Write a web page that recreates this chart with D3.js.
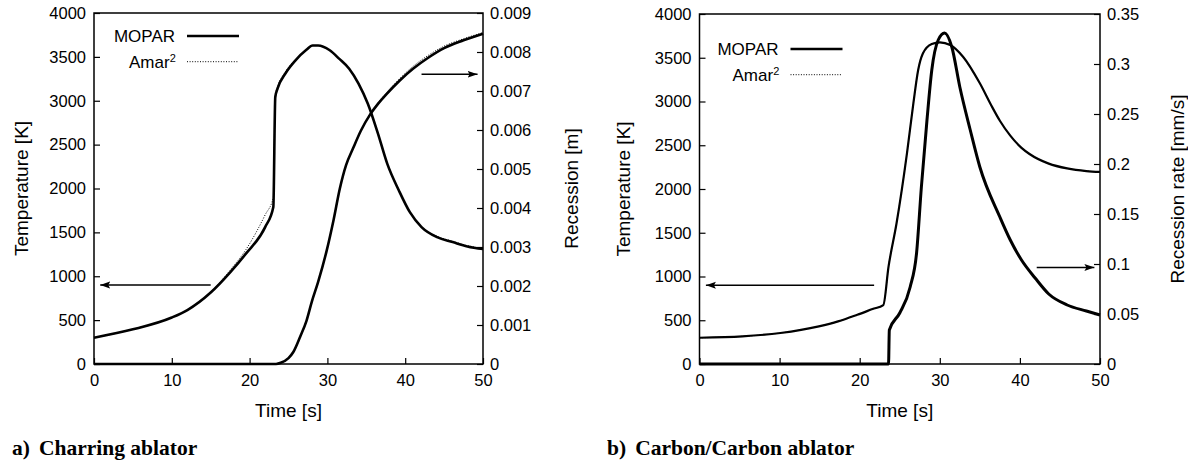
<!DOCTYPE html>
<html>
<head>
<meta charset="utf-8">
<script src="https://cdn.jsdelivr.net/npm/d3@7"></script>
<style>
  body { margin: 0; background: #fff; }
  svg text { font-family: "Liberation Sans", Arial, Helvetica, sans-serif; fill: #000; }
  .caption { font-family: "Liberation Serif", "Times New Roman", serif; font-weight: bold; }
</style>
</head>
<body>
<svg id="fig" width="1188" height="465"></svg>
<script>
// ---- a) charring ablator ----
const charTempTime  = [0, 5, 10, 12, 15, 17.5, 19.5, 22, 23.05, 23.3, 23.6, 24.6, 25.9, 27.3, 28.1, 28.8, 30.3, 31.5, 32.8, 34, 35.2, 36.5, 37.7, 39.2, 40.6, 42.1, 44.1, 46.1, 48, 50];
const charTempMopar = [300, 395, 530, 615, 815, 1045, 1255, 1560, 1790, 3040, 3140, 3310, 3460, 3580, 3630, 3630, 3575, 3480, 3365, 3195, 2965, 2625, 2280, 1975, 1730, 1560, 1445, 1390, 1340, 1310];
const charTempAmar  = [300, 395, 530, 615, 820, 1070, 1300, 1700, 1900, 3060, 3160, 3330, 3470, 3585, 3630, 3630, 3575, 3480, 3365, 3195, 2965, 2625, 2280, 1975, 1735, 1565, 1455, 1398, 1348, 1318];

const charRecTime  = [0, 23.4, 24.0, 25.0, 25.6, 26.5, 27.3, 28.0, 28.8, 29.9, 30.8, 31.6, 32.4, 33.3, 34.3, 35.5, 36.5, 37.6, 39.3, 41, 43, 45, 47.5, 50];
const charRecMopar = [0, 0, 0.00003, 0.00015, 0.0003, 0.0007, 0.0011, 0.0016, 0.0021, 0.0029, 0.0037, 0.0045, 0.0051, 0.00553, 0.00598, 0.0064, 0.00667, 0.00692, 0.00727, 0.00757, 0.00786, 0.0081, 0.0083, 0.00847];
const charRecAmar  = [0, 0, 0.00003, 0.00015, 0.0003, 0.0007, 0.0011, 0.0016, 0.0021, 0.0029, 0.0037, 0.0045, 0.0051, 0.00553, 0.00598, 0.00642, 0.0067, 0.00696, 0.00732, 0.00763, 0.00792, 0.00815, 0.00834, 0.0085];

// ---- b) carbon/carbon ablator ----
const ccTempTime  = [0, 5.35, 10.1, 14.9, 17.3, 19.7, 21.6, 22.95, 23.6, 24.6, 25.9, 26.7, 27.3, 27.9, 29.0, 30.0, 31.3, 32.9, 35.0, 36.4, 37.5, 38.8, 40.2, 41.2, 43.6, 45.9, 48.3, 50];
const ccTempMopar = [300, 316, 354, 430, 487, 563, 628, 674, 1112, 1608, 2408, 2979, 3360, 3551, 3657, 3676, 3646, 3512, 3208, 2960, 2780, 2610, 2470, 2400, 2290, 2235, 2205, 2195];

const ccRateTime  = [0, 23.6, 23.7, 25.0, 26.3, 27.1, 27.7, 28.4, 29.0, 29.8, 30.6, 31.5, 32.5, 33.8, 35.0, 37.5, 38.8, 40.2, 41.9, 43.6, 45.9, 48.3, 50];
const ccRateMopar = [0, 0, 0.034, 0.051, 0.077, 0.111, 0.177, 0.244, 0.294, 0.324, 0.331, 0.317, 0.277, 0.234, 0.197, 0.147, 0.124, 0.104, 0.086, 0.07, 0.059, 0.053, 0.049];

const timeTicks = [0, 10, 20, 30, 40, 50];
const tempTicks = d3.range(0, 4001, 500);
const recTicks  = d3.range(0, 0.0091, 0.001);
const rateTicks = d3.range(0, 0.351, 0.05);

const svg = d3.select("#fig");

svg.append("defs").append("marker")
    .attr("id", "head")
    .attr("viewBox", "0 -4 10 8")
    .attr("refX", 10).attr("refY", 0)
    .attr("markerUnits", "userSpaceOnUse")
    .attr("markerWidth", 10).attr("markerHeight", 8)
    .attr("orient", "auto")
  .append("path")
    .attr("d", "M0,-3.5L10,0L0,3.5L2,0Z")
    .attr("fill", "#000");

function zip(xs, ys) { return xs.map((x, i) => [x, ys[i]]); }

function panel(p) {
  const g = svg.append("g");
  const x = d3.scaleLinear().domain([0, 50]).range([p.left, p.right]);
  const y = d3.scaleLinear().domain([0, 4000]).range([p.bottom, p.top]);
  const y2 = d3.scaleLinear().domain([0, p.y2max]).range([p.bottom, p.top]);

  g.append("g").attr("transform", `translate(0,${p.bottom})`)
    .call(d3.axisBottom(x).tickValues(timeTicks).tickSizeInner(-6).tickSizeOuter(0).tickPadding(10))
    .call(s => s.select(".domain").remove());
  g.append("g").attr("transform", `translate(${p.left},0)`)
    .call(d3.axisLeft(y).tickValues(tempTicks).tickSizeInner(-6).tickSizeOuter(0).tickPadding(8)
      .tickFormat(d3.format("d")))
    .call(s => s.select(".domain").remove());
  g.append("g").attr("transform", `translate(${p.right},0)`)
    .call(d3.axisRight(y2).tickValues(p.y2ticks).tickSizeInner(-6).tickSizeOuter(0).tickPadding(7)
      .tickFormat(p.y2fmt))
    .call(s => s.select(".domain").remove());
  g.selectAll(".tick text").attr("font-size", 16.5).attr("font-family", null);
  g.selectAll(".tick line").attr("stroke-width", 1.2);

  g.append("rect")
    .attr("x", p.left).attr("y", p.top)
    .attr("width", p.right - p.left).attr("height", p.bottom - p.top)
    .attr("fill", "none").attr("stroke", "#000").attr("stroke-width", 1.5);

  const line = sc => d3.line().x(d => x(d[0])).y(d => sc(d[1])).curve(d3.curveMonotoneX);

  p.series.forEach(s => {
    g.append("path")
      .datum(zip(s.t, s.v))
      .attr("d", line(s.axis === 2 ? y2 : y))
      .attr("fill", "none")
      .attr("stroke", "#000")
      .attr("stroke-width", s.w)
      .attr("stroke-dasharray", s.dash || null)
      .attr("stroke-linejoin", "round");
  });

  // arrows pointing at the axis each curve belongs to
  g.append("line")
    .attr("x1", x(p.arrowL)).attr("x2", x(0.8))
    .attr("y1", y(900)).attr("y2", y(900))
    .attr("stroke", "#000").attr("stroke-width", 1.5).attr("marker-end", "url(#head)");
  g.append("line")
    .attr("x1", x(42.1)).attr("x2", x(49.3))
    .attr("y1", y2(p.arrowR)).attr("y2", y2(p.arrowR))
    .attr("stroke", "#000").attr("stroke-width", 1.5).attr("marker-end", "url(#head)");

  // key
  const kx = p.left + p.keyDx, ky = p.top + p.keyDy;
  g.append("text").attr("x", kx).attr("y", ky + 6).attr("text-anchor", "end")
    .attr("font-size", 17).text("MOPAR");
  g.append("line").attr("x1", kx + 12).attr("x2", kx + 64).attr("y1", ky).attr("y2", ky)
    .attr("stroke", "#000").attr("stroke-width", 2.6);
  const am = g.append("text").attr("x", kx - 46).attr("y", ky + 32).attr("font-size", 17);
  am.append("tspan").text("Amar");
  am.append("tspan").attr("font-size", 11).attr("dy", -6).text("2");
  g.append("line").attr("x1", kx + 12).attr("x2", kx + 64).attr("y1", ky + 25.7).attr("y2", ky + 25.7)
    .attr("stroke", "#000").attr("stroke-width", 1).attr("stroke-dasharray", "1,1.6");

  // axis titles
  g.append("text").attr("font-size", 19).attr("text-anchor", "middle")
    .attr("transform", `translate(${p.yLabelX},${(p.top + p.bottom) / 2}) rotate(-90)`)
    .attr("dy", "0.35em").text("Temperature [K]");
  g.append("text").attr("font-size", 19).attr("text-anchor", "middle")
    .attr("transform", `translate(${p.y2LabelX},${(p.top + p.bottom) / 2}) rotate(-90)`)
    .attr("dy", "0.35em").text(p.y2label);
  g.append("text").attr("font-size", 19).attr("text-anchor", "middle")
    .attr("x", (p.left + p.right) / 2).attr("y", 417).text("Time [s]");

  const cap = g.append("text").attr("class", "caption").attr("x", p.capX).attr("y", 455).attr("font-size", 21.5);
  cap.append("tspan").text(p.capTag);
  cap.append("tspan").attr("dx", 9).text(p.capText);
}

panel({
  left: 94, right: 483, top: 13, bottom: 364,
  y2max: 0.009, y2ticks: recTicks, y2fmt: d => d === 0 ? "0" : d3.format(".3f")(d),
  y2label: "Recession [m]", yLabelX: 21, y2LabelX: 571,
  arrowL: 15, arrowR: 0.00743,
  keyDx: 81, keyDy: 23,
  capX: 12, capTag: "a)", capText: "Charring ablator",
  series: [
    { t: charTempTime, v: charTempAmar, w: 1, dash: "1,1.6" },
    { t: charRecTime, v: charRecAmar, axis: 2, w: 1, dash: "1,1.6" },
    { t: charTempTime, v: charTempMopar, w: 2.6 },
    { t: charRecTime, v: charRecMopar, axis: 2, w: 2.6 }
  ]
});

panel({
  left: 699.5, right: 1100, top: 14, bottom: 364,
  y2max: 0.35, y2ticks: rateTicks, y2fmt: d => d === 0 ? "0" : d3.format("~g")(+d.toFixed(2)),
  y2label: "Recession rate [mm/s]", yLabelX: 623, y2LabelX: 1177,
  arrowL: 21.8, arrowR: 0.0966,
  keyDx: 79, keyDy: 35,
  capX: 607, capTag: "b)", capText: "Carbon/Carbon ablator",
  series: [
    { t: ccTempTime, v: ccTempMopar, w: 1, dash: "1,1.6" },
    { t: ccRateTime, v: ccRateMopar, axis: 2, w: 1, dash: "1,1.6" },
    { t: ccTempTime, v: ccTempMopar, w: 2.2 },
    { t: ccRateTime, v: ccRateMopar, axis: 2, w: 3 }
  ]
});
</script>
</body>
</html>
